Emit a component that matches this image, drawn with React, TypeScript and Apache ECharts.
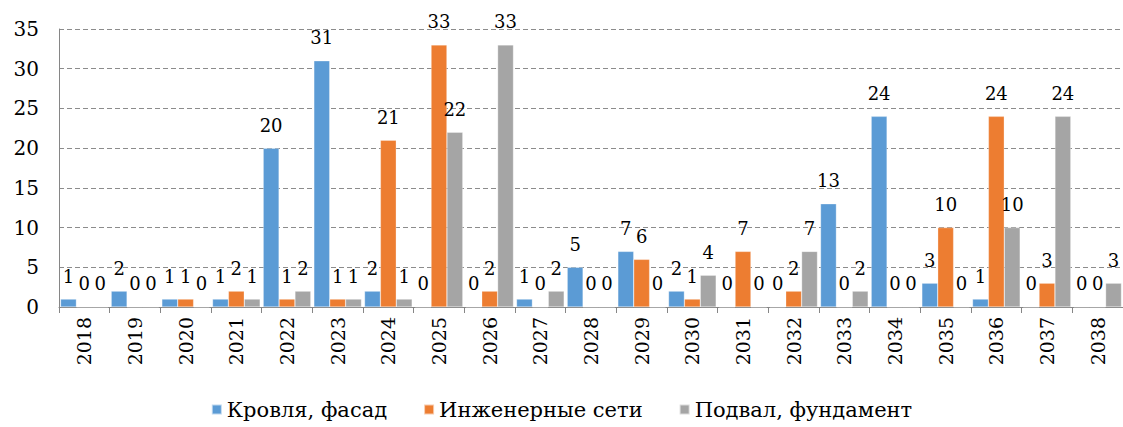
import React, { useEffect, useRef } from "react";
import * as echarts from "echarts";

const years = ["2018","2019","2020","2021","2022","2023","2024","2025","2026","2027","2028","2029","2030","2031","2032","2033","2034","2035","2036","2037","2038"];
const roofFacade = [1,2,1,1,20,31,2,0,0,1,5,7,2,0,0,13,24,3,1,0,0];
const engineering = [0,0,1,2,1,1,21,33,2,0,0,6,1,7,2,0,0,10,24,3,0];
const basement = [0,0,0,1,2,1,1,22,33,2,0,0,4,0,7,2,0,0,10,24,3];
const seriesNames = ["Кровля, фасад", "Инженерные сети", "Подвал, фундамент"];
const colors = ["#5B9BD5", "#ED7D31", "#A5A5A5"];

const FONT = "'DejaVu Serif'";

export default function App() {
  const ref = useRef<HTMLDivElement>(null);
  useEffect(() => {
    if (!ref.current) return;
    const chart = echarts.init(ref.current, null, { renderer: "svg" });
    const data = [roofFacade, engineering, basement];
    chart.setOption({
      animation: false,
      color: colors,
      textStyle: { fontFamily: FONT },
      grid: { left: 59, top: 29, bottom: 120, right: -11, containLabel: false },
      legend: {
        bottom: 2,
        left: "center",
        itemWidth: 10,
        itemHeight: 10,
        itemGap: 36,
        icon: "rect",
        textStyle: { fontFamily: FONT, fontSize: 21, color: "#000" },
        data: seriesNames,
      },
      xAxis: {
        type: "category",
        data: years,
        boundaryGap: true,
        axisLine: { lineStyle: { color: "#868686" } },
        axisTick: { show: true, length: 6, lineStyle: { color: "#868686" } },
        axisLabel: { rotate: 90, fontFamily: FONT, fontSize: 19, color: "#000", margin: 10, interval: 0 },
      },
      yAxis: {
        type: "value",
        min: 0,
        max: 35,
        interval: 5,
        axisLine: { show: true, lineStyle: { color: "#868686" } },
        axisTick: { show: false },
        axisLabel: { fontFamily: FONT, fontSize: 20, color: "#000", margin: 20 },
        splitLine: { lineStyle: { color: "#8C8C8C", type: [5, 3], width: 1 } },
      },
      series: seriesNames.map((name, i) => ({
        name,
        type: "bar",
        data: data[i],
        barGap: "0%",
        barCategoryGap: "6%",
        itemStyle: { color: colors[i], borderColor: "rgba(255,255,255,0.6)", borderWidth: 0.5 },
        label: {
          show: true,
          position: "top",
          distance: 14,
          fontFamily: FONT,
          fontSize: 18,
          color: "#000",
        },
      })),
    });
    return () => chart.dispose();
  }, []);
  return (
    <div style={{ position: "fixed", left: 0, top: 0, width: 1123, height: 427, overflow: "hidden", background: "#fff" }}>
      <div ref={ref} style={{ width: 1123, height: 427 }} />
    </div>
  );
}
